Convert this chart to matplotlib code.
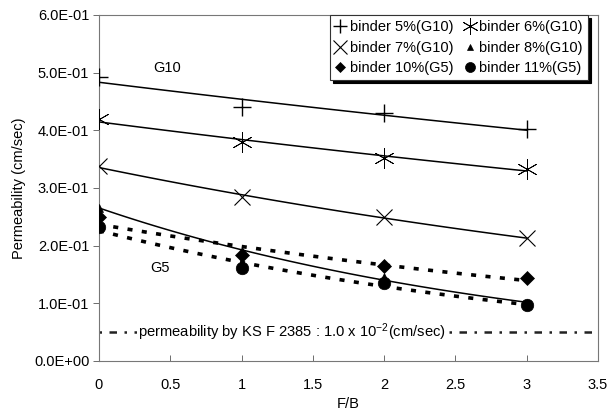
import numpy as np
import matplotlib
matplotlib.use("Agg")
import matplotlib.pyplot as plt
from matplotlib.ticker import FuncFormatter, MultipleLocator

plt.rcParams['font.family'] = ['Liberation Sans', 'DejaVu Sans']
plt.rcParams['mathtext.fontset'] = 'custom'
plt.rcParams['mathtext.rm'] = 'Liberation Sans'
plt.rcParams['mathtext.it'] = 'Liberation Sans'

# F/B ratio
fb = [0, 1, 2, 3]

# permeability (cm/sec) per binder content
binder5_g10 = [0.492, 0.440, 0.430, 0.402]
binder6_g10 = [0.419, 0.380, 0.352, 0.333]
binder7_g10 = [0.338, 0.284, 0.250, 0.213]
binder8_g10 = [0.265, 0.190, 0.145, 0.100]
binder10_g5 = [0.250, 0.184, 0.165, 0.144]
binder11_g5 = [0.232, 0.161, 0.135, 0.097]

ks_limit = 0.05
x_ticks = [0, 0.5, 1, 1.5, 2, 2.5, 3, 3.5]

fig = plt.figure(figsize=(6.11, 4.16), dpi=100)
ax = fig.add_axes([99 / 611, 1 - 361 / 416, 499 / 611, 346 / 416])


def exp_trend(x, y):
    """Exponential trend line fitted to the points."""
    b, a = np.polyfit(np.asarray(x, float), np.log(y), 1)
    xs = np.linspace(min(x), max(x), 100)
    return xs, np.exp(a + b * xs)


series = [
    (binder5_g10, 'binder 5%(G10)', dict(marker='+', ms=13, mew=1.0), '-'),
    (binder6_g10, 'binder 6%(G10)', dict(marker=(6, 2, 0), ms=15, mew=0.6), '-'),
    (binder7_g10, 'binder 7%(G10)', dict(marker='x', ms=12, mew=0.8), '-'),
    (binder8_g10, 'binder 8%(G10)', dict(marker='^', ms=6, mew=0.5), '-'),
    (binder10_g5, 'binder 10%(G5)', dict(marker='D', ms=7, mew=0.5), 'dash'),
    (binder11_g5, 'binder 11%(G5)', dict(marker='o', ms=9, mew=0.5), 'dash'),
]

handles = []
for ys, label, mk, style in series:
    xs, yt = exp_trend(fb, ys)
    if style == '-':
        ax.plot(xs, yt, color='black', lw=1.1, zorder=2)
    else:
        ax.plot(xs, yt, color='black', lw=2.6, linestyle=(0, (1.4, 2.6)),
                zorder=2)
    h, = ax.plot(fb, ys, linestyle='none', color='black', mfc='black',
                 mec='black', label=label, zorder=3, **mk)
    handles.append(h)

# KS F 2385 reference line
ax.axhline(ks_limit, color='#222222', lw=1.8, linestyle=(0, (1, 3, 3, 3)),
           zorder=1)
ax.text(1.35, ks_limit, r"permeability by KS F 2385 : 1.0 x 10$^{-2}$(cm/sec)",
        ha='center', va='center', fontsize=10.6,
        bbox=dict(facecolor='white', edgecolor='none', pad=0.5), zorder=2)

ax.text(0.48, 0.508, 'G10', ha='center', va='center', fontsize=10.5)
ax.text(0.43, 0.161, 'G5', ha='center', va='center', fontsize=10.5)

ax.set_xlim(0, 3.5)
ax.set_ylim(0, 0.6)
ax.set_xticks(x_ticks)
ax.set_xticklabels([f"{v:g}" for v in x_ticks])
ax.yaxis.set_major_locator(MultipleLocator(0.1))
ax.yaxis.set_major_formatter(FuncFormatter(lambda v, p: f"{v:.1E}"))

ax.tick_params(axis='x', direction='in', length=4, width=0.6, pad=12,
               labelsize=10.5, color='#555555')
ax.tick_params(axis='y', direction='out', length=4, width=0.6, pad=3,
               labelsize=10.5, color='#555555')
for s in ax.spines.values():
    s.set_color('#777777')
    s.set_linewidth(0.8)

ax.set_xlabel('F/B', fontsize=10.5, labelpad=4)
ax.set_ylabel('Permeability (cm/sec)', fontsize=10.5, labelpad=6)

order = [0, 2, 4, 1, 3, 5]
leg = ax.legend([handles[i] for i in order], [handles[i].get_label() for i in order],
                ncol=2, loc='upper right', bbox_to_anchor=(0.98, 1.0),
                borderaxespad=0, fontsize=10.5, frameon=True, fancybox=False,
                shadow={'color': 'black', 'alpha': 1.0},
                handlelength=0.7, handletextpad=0.3,
                columnspacing=0.8, labelspacing=0.45, borderpad=0.35,
                markerscale=0.8)
leg.get_frame().set_edgecolor('#333333')
leg.get_frame().set_linewidth(0.8)

fig.savefig('out.png', dpi=100)
